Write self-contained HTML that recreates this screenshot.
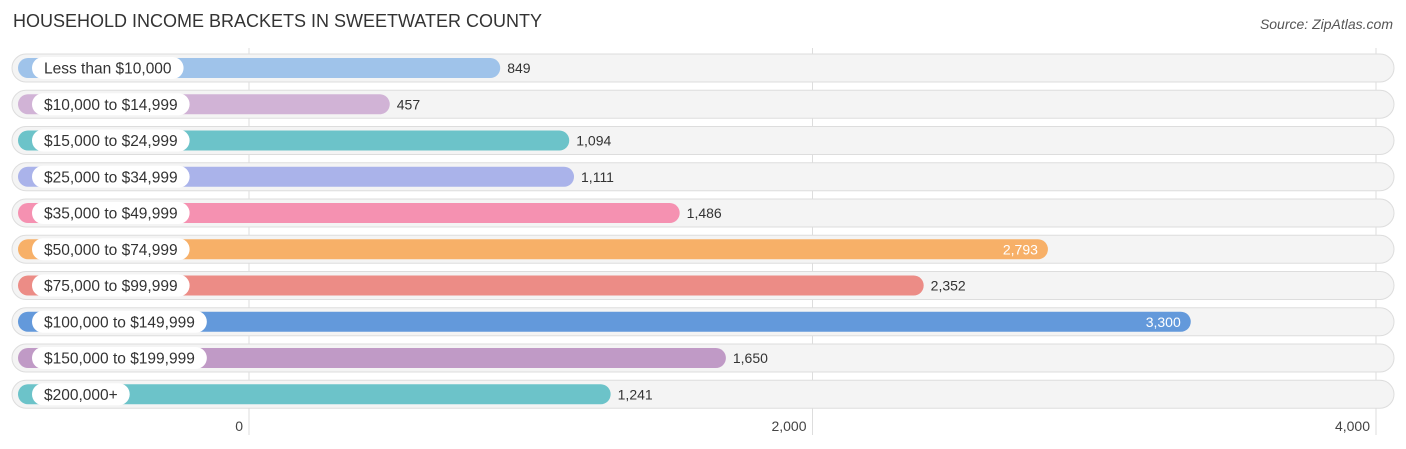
<!DOCTYPE html>
<html><head><meta charset="utf-8"><style>
body{margin:0;background:#fff;font-family:"Liberation Sans",sans-serif;}
svg{display:block}
</style></head><body>
<svg id="c" width="1406" height="449">
<text x="13" y="27" font-size="18" fill="#333">HOUSEHOLD INCOME BRACKETS IN SWEETWATER COUNTY</text>
<text x="1393" y="29" font-size="14" fill="#555" font-style="italic" text-anchor="end">Source: ZipAtlas.com</text>
<g id="grid"></g><g id="rows"></g>
</svg>
<script>
const categories=["Less than $10,000","$10,000 to $14,999","$15,000 to $24,999","$25,000 to $34,999","$35,000 to $49,999","$50,000 to $74,999","$75,000 to $99,999","$100,000 to $149,999","$150,000 to $199,999","$200,000+"];
const values=[849,457,1094,1111,1486,2793,2352,3300,1650,1241];
const colors=["#9fc3ea","#d1b3d6","#6cc3c9","#aab3ea","#f591b1","#f7b068","#ec8c86","#6399db","#c09ac6","#6cc3c9"];
const ticks=[0,2000,4000];
const tickLabels=["0","2,000","4,000"];
const NS="http://www.w3.org/2000/svg";
const x=v=>249+v*0.28175;
const y=i=>68+i*36.25;
function mk(t,a,p){const e=document.createElementNS(NS,t);for(const k in a)e.setAttribute(k,a[k]);p.appendChild(e);return e;}
const g=document.getElementById('grid'),r=document.getElementById('rows');
ticks.forEach((t,i)=>{
 const l=mk('line',{x1:x(t),x2:x(t),y1:48,y2:435,stroke:'#ddd','stroke-width':1},g);
 
 
 const tx=mk('text',{x:x(t)-6,y:431,'font-size':14,fill:'#444','text-anchor':'end'},g);
 tx.textContent=tickLabels[i];
 
 
});
categories.forEach((c,i)=>{
 const cy=y(i);
 const bg=mk('rect',{x:12,y:cy-14,width:1382,height:28,rx:14,fill:'#f4f4f4',stroke:'#ddd','stroke-width':1},r);
 
 
 const end=x(values[i])+12;
 const b=mk('rect',{x:18,y:cy-10,width:end-18,height:20,rx:10,fill:colors[i]},r);
 
 
 const lt=mk('text',{x:44,y:cy+5.5,'font-size':15.5,fill:'#333'},r);
 lt.textContent=c;
 
 
 const lw=lt.getComputedTextLength()+24;
 const p=mk('rect',{x:32,y:cy-11,width:lw,height:22,rx:11,fill:'#fff'},r);
 
 
 r.insertBefore(p,lt);
 const inside=values[i]>2500;
 const vt=mk('text',{x:inside?end-10:end+7,y:cy+5,'font-size':14,fill:inside?'#fff':'#333','text-anchor':inside?'end':'start'},r);
 vt.textContent=values[i].toLocaleString('en-US');
 
 
});
</script>
</body></html>
